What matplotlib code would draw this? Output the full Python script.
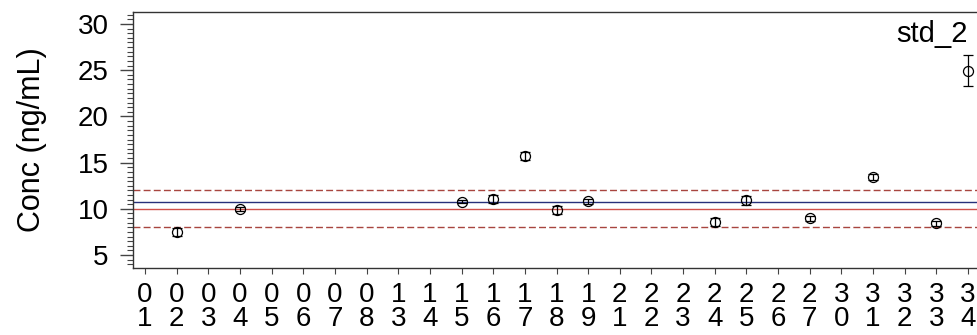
import numpy as np
import matplotlib
matplotlib.use("Agg")
import matplotlib.pyplot as plt
from matplotlib.ticker import MultipleLocator

plt.rcParams["font.family"] = ["Liberation Sans", "DejaVu Sans"]

# Sample run identifiers shown along the x axis
runs = ["01", "02", "03", "04", "05", "06", "07", "08", "13", "14", "15", "16", "17",
        "18", "19", "21", "22", "23", "24", "25", "26", "27", "30", "31", "32", "33", "34"]

# Measured concentrations of standard std_2 (run id -> mean, sd)
meas_runs = ["02", "04", "15", "16", "17", "18", "19", "24", "25", "27", "31", "33", "34"]
meas_conc = [7.52, 10.01, 10.77, 11.06, 15.71, 9.87, 10.81, 8.60, 10.92, 8.97, 13.47, 8.43, 24.95]
meas_sd = [0.45, 0.20, 0.15, 0.40, 0.40, 0.45, 0.30, 0.45, 0.50, 0.30, 0.35, 0.30, 1.68]

nominal = 10.0          # target concentration
tolerance = 0.20        # +/- 20 % acceptance band
label = "std_2"

fig = plt.figure(figsize=(9.78, 3.35), dpi=100)
ax = fig.add_axes([133 / 978, 67 / 335, 847 / 978, 256 / 335])

xpos = {r: i for i, r in enumerate(runs)}
mx = [xpos[r] for r in meas_runs]

median_conc = float(np.median(meas_conc))
ax.axhline(median_conc, color="#27307a", lw=1.0, zorder=1)
ax.axhline(nominal, color="#d0504a", lw=1.0, zorder=1)
ax.axhline(nominal * (1 - tolerance), color="#a8453f", lw=1.0, ls=(0, (5, 2.3)), zorder=1)
ax.axhline(nominal * (1 + tolerance), color="#a8453f", lw=1.0, ls=(0, (5, 2.3)), zorder=1)

ax.errorbar(mx, meas_conc, yerr=meas_sd, fmt="o", mfc="none", mec="black", ms=7.2,
            mew=0.9, ecolor="black", elinewidth=0.9, capsize=3.6, capthick=0.9, zorder=3)

ax.set_xlim(-0.38, len(runs) - 1 + 0.38)
ax.set_ylim(3.6, 31.3)

ax.set_xticks(range(len(runs)))
ax.set_xticklabels([r[0] + "\n" + r[1] for r in runs], fontsize=20, linespacing=0.92)
ax.yaxis.set_major_locator(MultipleLocator(5))
ax.yaxis.set_minor_locator(MultipleLocator(0.5))
ax.set_yticks([5, 10, 15, 20, 25, 30])
ax.tick_params(axis="y", which="major", length=9.4, width=1.0, color="#444444",
               labelsize=20, pad=8)
ax.tick_params(axis="y", which="minor", length=4.5, width=0.8, color="#444444")
ax.tick_params(axis="x", length=4, width=0.8, color="#444444", pad=6)

for side in ["left", "top", "bottom", "right"]:
    ax.spines[side].set_color("#333333")
    ax.spines[side].set_linewidth(1.0)

ax.set_ylabel("Conc (ng/mL)", fontsize=22, labelpad=22)

fig.text(968 / 978, 1 - 42 / 335, label, ha="right", va="baseline", fontsize=21)

fig.savefig("out.png", dpi=100)
